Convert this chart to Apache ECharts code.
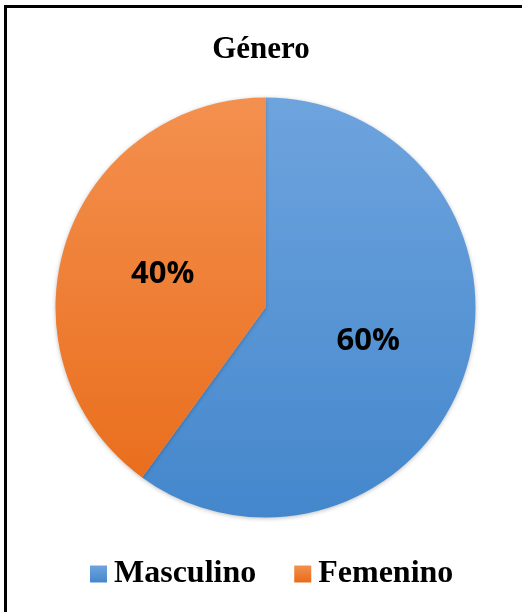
<!DOCTYPE html>
<html>
<head>
<meta charset="utf-8">
<script src="https://cdn.jsdelivr.net/npm/echarts@6/dist/echarts.min.js"></script>
<style>
  html, body { margin: 0; padding: 0; background: #fff; }
  #chart { width: 522px; height: 612px; }
</style>
</head>
<body>
<div id="chart"></div>
<script>
  var categories = ['Masculino', 'Femenino'];
  var values = [60, 40];
  var titleText = 'Género';

  // gradientes tipo Excel (claro arriba, oscuro abajo)
  var blueStops = [{ offset: 0, color: '#6ea4de' }, { offset: 1, color: '#4487cc' }];
  var orangeStops = [{ offset: 0, color: '#f4904f' }, { offset: 1, color: '#e86b18' }];
  var colors = [
    { type: 'linear', x: 0, y: 97, x2: 0, y2: 517, global: true, colorStops: blueStops },
    { type: 'linear', x: 0, y: 97, x2: 0, y2: 517, global: true, colorStops: orangeStops }
  ];
  var legendColors = [
    { type: 'linear', x: 0, y: 0, x2: 0, y2: 1, colorStops: blueStops },
    { type: 'linear', x: 0, y: 0, x2: 0, y2: 1, colorStops: orangeStops }
  ];

  var chart = echarts.init(document.getElementById('chart'));
  chart.setOption({
    backgroundColor: '#fff',
    animation: false,
    title: {
      text: titleText,
      left: 'center',
      top: 29,
      textStyle: { fontFamily: 'Liberation Serif', fontWeight: 'bold', fontSize: 31, color: '#000' }
    },
    legend: {
      bottom: 17,
      left: 85,
      itemWidth: 17,
      itemHeight: 17,
      itemGap: 38,
      icon: 'rect',
      data: categories.map(function (name, i) {
        return { name: name, itemStyle: { color: legendColors[i] } };
      }),
      textStyle: { fontFamily: 'Liberation Serif', fontWeight: 'bold', fontSize: 32, color: '#000', padding: [0, 0, 0, 2] }
    },
    graphic: [
      { type: 'rect', shape: { x: 4, y: 5, width: 518, height: 3 }, style: { fill: '#000' } },
      { type: 'rect', shape: { x: 4, y: 5, width: 3, height: 607 }, style: { fill: '#000' } }
    ],
    series: [{
      type: 'pie',
      center: [265.5, 307.5],
      radius: [0, 210],
      startAngle: 90,
      clockwise: true,
      silent: true,
      label: {
        show: true,
        position: 'inside',
        formatter: '{c}%',
        fontFamily: 'Open Sans',
        fontWeight: 'bold',
        fontSize: 31,
        color: '#000'
      },
      labelLine: { show: false },
      itemStyle: { shadowBlur: 4, shadowColor: 'rgba(0,0,0,0.25)', shadowOffsetY: 1 },
      data: categories.map(function (name, i) {
        return { name: name, value: values[i], itemStyle: { color: colors[i] } };
      })
    }],
    color: ['#5b9bd5', '#ed7d31']
  });
</script>
</body>
</html>
